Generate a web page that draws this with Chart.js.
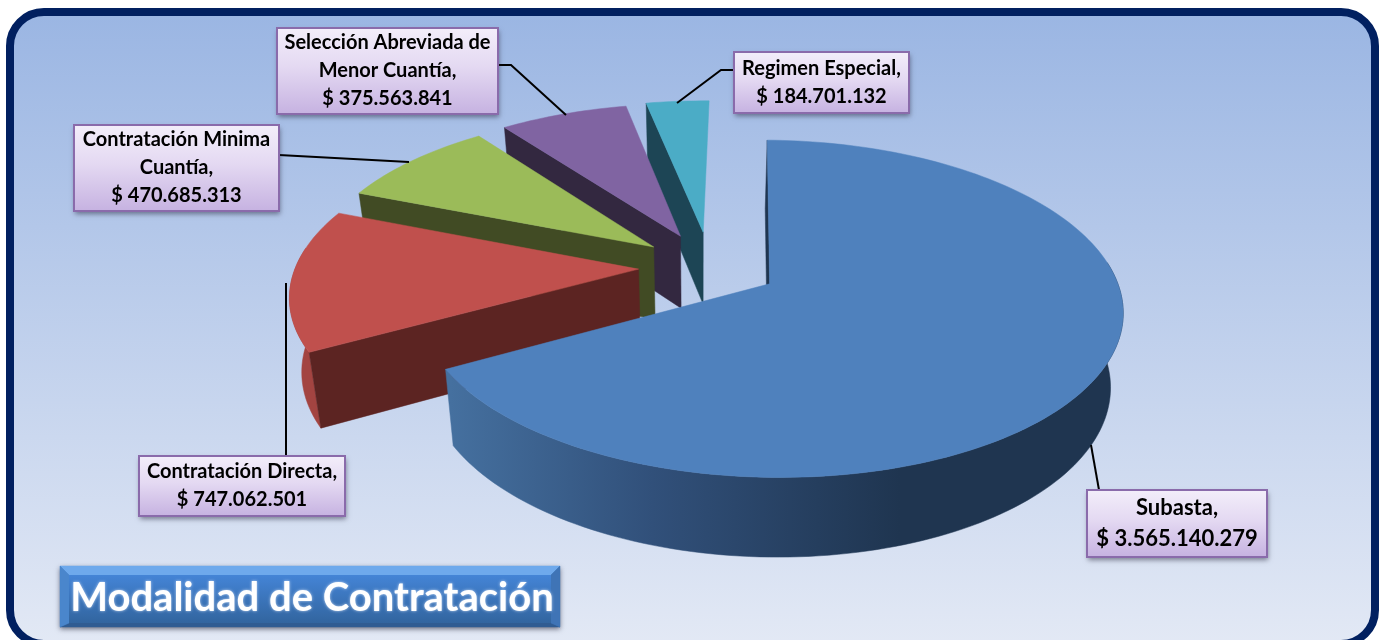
<!DOCTYPE html>
<html>
<head>
<meta charset="utf-8">
<title>Modalidad de Contratación</title>
<script src="https://cdn.jsdelivr.net/npm/chart.js@4/dist/chart.umd.js"></script>
<style>
    html, body { margin: 0; padding: 0; background: #fff; }
    #frame {
        position: absolute; left: 6px; top: 8px; width: 1373px; height: 640px; box-sizing: border-box;
        border: 8px solid #012060; border-radius: 38px;
        background: linear-gradient(#9bb6e3, #e3e9f5 632px);
    }
    canvas { position: absolute; left: 0; top: 0; }
</style>
</head>
<body>
<div id="frame"></div>
<canvas id="pie" width="1380" height="640"></canvas>
<script>
const chartTitle = "Modalidad de Contratación"
const categories = ["Subasta", "Contratación Directa", "Contratación Minima Cuantía", "Selección Abreviada de Menor Cuantía", "Regimen Especial"]
const amounts = [3565140279, 747062501, 470685313, 375563841, 184701132]
const explode = [48, 50, 50.5, 52, 54]
const topColors = ["#4f81bd", "#c0504d", "#9bbb59", "#8064a2", "#4bacc6"]
const cutColors = ["#1f3550", "#5c2422", "#414b24", "#332840", "#1d4555"]
const wallColors = ["#1f3550", "#a34441", "#7c9647", "#665082", "#3c899e"]

// fake 3D view of the flat pie
const view = { rx: 343, ry: 160, persp: 0.146, depth: 73, vanishX: 700, shrink: 0.97 }

function project(u, v, low) {
    const w = 1 / (1 - view.persp * v)
    let x = view.cx + view.rx * u * w
    let y = view.cy + view.ry * v * w
    if (low) {
        y += view.depth * Math.sqrt(w)
        x = view.vanishX + (x - view.vanishX) * view.shrink
    }
    return [x, y]
}

function pathOf(ctx, pts, color) {
    ctx.beginPath()
    pts.forEach((p, i) => i ? ctx.lineTo(p[0], p[1]) : ctx.moveTo(p[0], p[1]))
    ctx.closePath()
    ctx.fillStyle = color
    ctx.fill()
    ctx.strokeStyle = color
    ctx.lineWidth = 0.5
    ctx.stroke()
}

function drawSlice(ctx, arc, i) {
    const p = arc.getProps(["x", "y", "startAngle", "endAngle", "outerRadius"])
    view.cx = p.x
    view.cy = p.y
    const mid = (p.startAngle + p.endAngle) / 2
    const e = arc.options.offset / p.outerRadius
    const ou = e * Math.cos(mid)
    const ov = e * Math.sin(mid)
    const steps = Math.ceil((p.endAngle - p.startAngle) * 40)
    const edge = []
    const front = []
    for (let s = 0; s <= steps; s++) {
        const a = p.startAngle + (p.endAngle - p.startAngle) * s / steps
        const q = [ou + Math.cos(a), ov + Math.sin(a)]
        edge.push(q)
        if (Math.sin(a) > -0.15) front.push(q)
    }
    const top = edge.map(q => project(q[0], q[1], false))
    const low = edge.map(q => project(q[0], q[1], true))
    const apex = project(ou, ov, false)
    const apexLow = project(ou, ov, true)

    // only the walls facing the viewer, the top face goes last
    if (front.length > 1) {
        let wall = wallColors[i]
        if (i === 0) {
            wall = ctx.createLinearGradient(450, 0, 900, 0)
            wall.addColorStop(0, "#45709f")
            wall.addColorStop(0.45, "#31507a")
            wall.addColorStop(1, "#1f3550")
        }
        const wallTop = front.map(q => project(q[0], q[1], false))
        const wallLow = front.map(q => project(q[0], q[1], true))
        pathOf(ctx, wallTop.concat(wallLow.reverse()), wall)
    }
    pathOf(ctx, [apex, top[0], low[0], apexLow], cutColors[i])
    pathOf(ctx, [apex].concat(top), topColors[i])
}

function money(n) {
    return "$ " + String(n).replace(/\B(?=(\d{3})+$)/g, ".")
}

function wrapLines(ctx, text, maxWidth) {
    const lines = []
    let line = ""
    text.split(" ").forEach(word => {
        const next = line ? line + " " + word : word
        if (ctx.measureText(next + ",").width > maxWidth && line) {
            lines.push(line)
            line = word
        } else {
            line = next
        }
    })
    lines.push(line + ",")
    return lines
}

function drawLeader(ctx, pts) {
    ctx.beginPath()
    pts.forEach((p, i) => i ? ctx.lineTo(p[0], p[1]) : ctx.moveTo(p[0], p[1]))
    ctx.strokeStyle = "#000"
    ctx.lineWidth = 2
    ctx.stroke()
}

function drawLabel(ctx, box, i) {
    ctx.save()
    ctx.shadowColor = "rgba(40,40,60,0.55)"
    ctx.shadowBlur = 5
    ctx.shadowOffsetX = 1
    ctx.shadowOffsetY = 3
    const g = ctx.createLinearGradient(0, box.y, 0, box.y + box.h)
    g.addColorStop(0, "#f3eefa")
    g.addColorStop(0.45, "#e4d9f2")
    g.addColorStop(1, "#c6b2e1")
    ctx.fillStyle = g
    ctx.fillRect(box.x, box.y, box.w, box.h)
    ctx.restore()
    ctx.strokeStyle = "#8a6bab"
    ctx.lineWidth = 2
    ctx.strokeRect(box.x, box.y, box.w, box.h)

    ctx.font = "bold " + box.font + "px Lato"
    ctx.fillStyle = "#000"
    ctx.textAlign = "center"
    ctx.textBaseline = "middle"
    const lines = wrapLines(ctx, categories[i], box.w - 10).concat(money(amounts[i]))
    const step = box.step
    const first = box.y + box.h / 2 - step * (lines.length - 1) / 2
    lines.forEach((t, k) => ctx.fillText(t, box.x + box.w / 2, first + k * step))
}

function drawTitle(ctx) {
    const x = 60, y = 566, w = 500, h = 61, b = 9
    ctx.save()
    ctx.shadowColor = "rgba(30,30,50,0.6)"
    ctx.shadowBlur = 5
    ctx.shadowOffsetY = 2
    ctx.fillStyle = "#3c70b4"
    ctx.fillRect(x, y, w, h)
    ctx.restore()
    pathOf(ctx, [[x, y], [x + w, y], [x + w - b, y + b], [x + b, y + b]], "#6ea9ec")
    pathOf(ctx, [[x, y + h], [x + w, y + h], [x + w - b, y + h - 4], [x + b, y + h - 4]], "#305c92")
    pathOf(ctx, [[x, y], [x + b, y + b], [x + b, y + h - 4], [x, y + h]], "#4a86cc")
    pathOf(ctx, [[x + w, y], [x + w - b, y + b], [x + w - b, y + h - 4], [x + w, y + h]], "#3f74b6")
    const g = ctx.createLinearGradient(0, y + b, 0, y + h - 4)
    g.addColorStop(0, "#4484d6")
    g.addColorStop(1, "#32659f")
    ctx.fillStyle = g
    ctx.fillRect(x + b, y + b, w - 2 * b, h - b - 4)

    ctx.save()
    ctx.font = "bold 40px Lato"
    ctx.fillStyle = "#fff"
    ctx.textAlign = "center"
    ctx.textBaseline = "middle"
    ctx.shadowColor = "rgba(230,240,255,0.8)"
    ctx.shadowBlur = 3
    ctx.fillText(chartTitle, x + w / 2 + 2, y + h / 2 + 2)
    ctx.restore()
}

const labelBoxes = [
    { x: 1087, y: 490, w: 180, h: 67, font: 22, step: 31 },
    { x: 139, y: 456, w: 206, h: 60, font: 20, step: 28 },
    { x: 74, y: 125, w: 205, h: 86, font: 20, step: 28 },
    { x: 277, y: 28, w: 221, h: 86, font: 20, step: 28 },
    { x: 734, y: 52, w: 175, h: 61, font: 20, step: 28 }
]
const leaders = [
    [[1091, 445], [1099, 490]],
    [[286, 283], [286, 456]],
    [[279, 155], [409, 162]],
    [[498, 65], [511, 65], [566, 115]],
    [[734, 70], [721, 70], [677, 103]]
]

const pie3d = {
    id: "pie3d",
    beforeDatasetDraw(chart, args) {
        const ctx = chart.ctx
        const arcs = chart.getDatasetMeta(args.index).data
        ctx.save()
        for (let i = arcs.length - 1; i >= 0; i--) drawSlice(ctx, arcs[i], i)
        ctx.restore()
        return false
    },
    afterDatasetsDraw(chart) {
        const ctx = chart.ctx
        ctx.save()
        leaders.forEach(l => drawLeader(ctx, l))
        labelBoxes.forEach((b, i) => drawLabel(ctx, b, i))
        drawTitle(ctx)
        ctx.restore()
    }
}

new Chart(document.getElementById("pie").getContext("2d"), {
    type: "pie",
    plugins: [pie3d],
    data: {
        labels: categories,
        datasets: [{ data: amounts, backgroundColor: topColors, borderWidth: 0, offset: explode }]
    },
    options: {
        responsive: false,
        animation: false,
        rotation: 1,
        layout: { padding: { left: 40, bottom: 106 } },
        plugins: { legend: { display: false }, tooltip: { enabled: false } }
    }
})
</script>
</body>
</html>
